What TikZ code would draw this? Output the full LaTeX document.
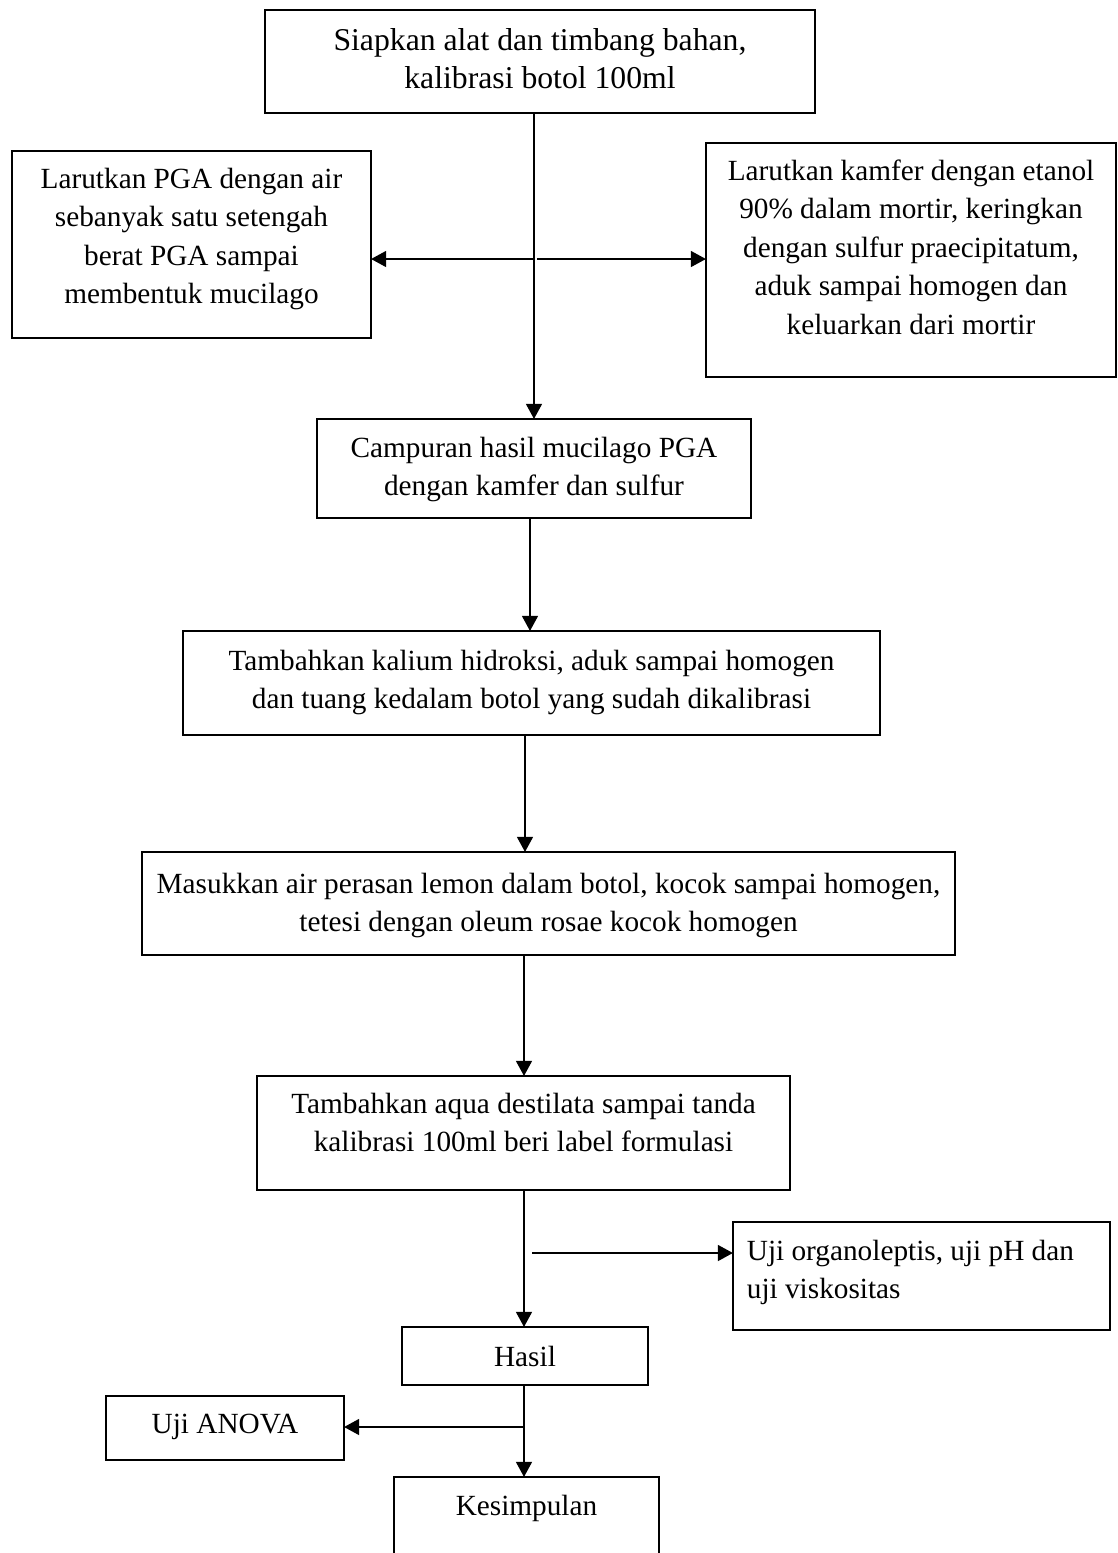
\documentclass[tikz,border=0pt]{standalone}
\usepackage{fontspec}
\setmainfont{Liberation Serif}
\usetikzlibrary{arrows.meta}
\tikzset{
  flowst/.style={draw, line width=1.05pt, inner sep=0pt, outer sep=0pt, font=\fontsize{12}{15.8}\selectfont},
  arr/.style={line width=1.1pt, -{Triangle[length=6.2pt,width=6.4pt]}},
}
% #1 name, #2 x1, #3 y1, #4 x2, #5 y2, #6 first baseline below top (px), #7 alignment, #8 text
\newcommand{\flowbox}[8]{%
  \node[flowst, anchor=north west] (#1) at (#2,#3)
  {\parbox[c][\dimexpr(#5pt-#3pt)*41/100\relax][t]{\dimexpr(#4pt-#2pt)*41/100\relax}{%
     \vspace*{\dimexpr #6pt*41/100-\ht\strutbox\relax}#7\strut #8}};}
\begin{document}
\begin{tikzpicture}[x=0.41pt, y=-0.41pt]
\path[use as bounding box] (0,0) rectangle (1118,1553);
\clip (0,0) rectangle (1118,1553);

\flowbox{top}{265}{10}{815}{113}{40}{\centering\fontsize{13}{15.8}\selectfont}{Siapkan alat dan timbang bahan,\\ kalibrasi botol 100ml}
\flowbox{left}{12}{151}{371}{338}{37}{\centering}{Larutkan PGA dengan air\\ sebanyak satu setengah\\ berat PGA sampai\\ membentuk mucilago}
\flowbox{right}{706}{143}{1116}{377}{37}{\centering}{Larutkan kamfer dengan etanol\\ 90\% dalam mortir, keringkan\\ dengan sulfur praecipitatum,\\ aduk sampai homogen dan\\ keluarkan dari mortir}
\flowbox{camp}{317}{419}{751}{518}{38}{\centering}{Campuran hasil mucilago PGA\\ dengan kamfer dan sulfur}
\flowbox{kal}{183}{631}{880}{735}{39}{\centering}{Tambahkan kalium hidroksi, aduk sampai homogen\\ dan tuang kedalam botol yang sudah dikalibrasi}
\flowbox{mas}{142}{852}{955}{955}{41}{\centering}{Masukkan air perasan lemon dalam botol, kocok sampai homogen,\\ tetesi dengan oleum rosae kocok homogen}
\flowbox{aqua}{257}{1076}{790}{1190}{37}{\centering}{Tambahkan aqua destilata sampai tanda\\ kalibrasi 100ml beri label formulasi}
\flowbox{uji}{733}{1222}{1110}{1330}{38}{\raggedright\leftskip=5.7pt}{Uji organoleptis, uji pH dan\\ uji viskositas}
\flowbox{hasil}{402}{1327}{648}{1385}{39}{\centering}{Hasil}
\flowbox{anova}{106}{1396}{344}{1460}{37}{\centering}{Uji ANOVA}
\flowbox{kes}{394}{1477}{659}{1600}{38}{\centering}{Kesimpulan}

\coordinate (sA) at (534,0);
\coordinate (sB) at (530,0);
\coordinate (sC) at (525,0);
\coordinate (sD) at (524,0);
\coordinate (mid) at (534,259);
\coordinate (midr) at (537,259);
\coordinate (br1) at (532,1253);
\coordinate (br2) at (524,1427);

\draw[arr] (top.south -| sA) -- (camp.north -| sA);
\draw[arr] (mid) -- (left.east |- mid);
\draw[arr] (midr) -- (right.west |- midr);
\draw[arr] (camp.south -| sB) -- (kal.north -| sB);
\draw[arr] (kal.south -| sC) -- (mas.north -| sC);
\draw[arr] (mas.south -| sD) -- (aqua.north -| sD);
\draw[arr] (aqua.south -| sD) -- (hasil.north -| sD);
\draw[arr] (br1) -- (uji.west |- br1);
\draw[arr] (hasil.south -| sD) -- (kes.north -| sD);
\draw[arr] (br2) -- (anova.east |- br2);
\end{tikzpicture}
\end{document}
